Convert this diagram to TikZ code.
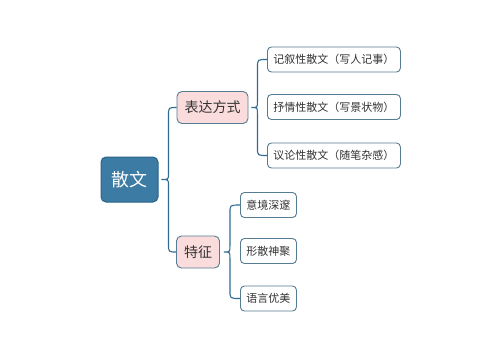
\documentclass[tikz,border=0pt]{standalone}
\usepackage{fontspec}
\setmainfont{Noto Sans CJK SC}
\usetikzlibrary{calc}
\definecolor{rootfill}{HTML}{3B7BA4}
\definecolor{rootdraw}{HTML}{2E6387}
\definecolor{connc}{HTML}{2F6C92}
\definecolor{pinkfill}{HTML}{FADCDC}
\definecolor{boxdraw}{HTML}{557C92}
\definecolor{txt}{HTML}{333333}
\tikzset{
  rootbox/.style={draw=rootdraw, fill=rootfill, line width=1pt, rounded corners=5pt,
    text=white, font=\fontsize{18}{20}\selectfont, inner xsep=10.5pt, inner ysep=0pt,
    minimum height=45pt},
  midbox/.style={draw=boxdraw, fill=pinkfill, line width=0.9pt, rounded corners=5pt,
    text=txt, font=\fontsize{14}{16}\selectfont, inner xsep=7.5pt, inner ysep=0pt,
    minimum height=32pt},
  leafbox/.style={draw=boxdraw, fill=white, line width=0.9pt, rounded corners=4pt,
    text=txt, font=\fontsize{11}{13}\selectfont, inner xsep=6pt, inner ysep=0pt,
    minimum height=25pt, anchor=west},
  conn/.style={draw=connc, line width=1.1pt}
}
\newcommand{\mybrace}[5]{%
  \draw[conn] let \p1=(#1.east), \p2=(#2.west), \p3=(#3.west) in
    (\p2) .. controls (\x1+#5, \y2) .. (\x1+#5, \y2-8pt)
    -- (\x1+#5, \y1+6pt) .. controls (\x1+#5, \y1) .. (\x1+#4, \y1)
    .. controls (\x1+#5, \y1) .. (\x1+#5, \y1-6pt)
    -- (\x1+#5, \y3+8pt) .. controls (\x1+#5, \y3) .. (\p3);
}
\begin{document}
\begin{tikzpicture}[x=1pt, y=-1pt]
\useasboundingbox[fill=white] (0,0) rectangle (500,360);
\node[rootbox] (root) at (129.5,179.5) {散文};
\node[midbox] (a) at (212.5,107.5) {表达方式};
\node[midbox] (b) at (198,252) {特征};
\node[leafbox] (a1) at (267,59.5) {记叙性散文（写人记事）};
\node[leafbox] (a2) at (267,107) {抒情性散文（写景状物）};
\node[leafbox] (a3) at (267,155.5) {议论性散文（随笔杂感）};
\node[leafbox] (b1) at (240,205) {意境深邃};
\node[leafbox] (b2) at (240,251) {形散神聚};
\node[leafbox] (b3) at (240,298.5) {语言优美};
\mybrace{root}{a}{b}{3pt}{10pt}
\mybrace{a}{a1}{a3}{3pt}{9pt}
\mybrace{b}{b1}{b3}{4pt}{10pt}
\end{tikzpicture}
\end{document}
